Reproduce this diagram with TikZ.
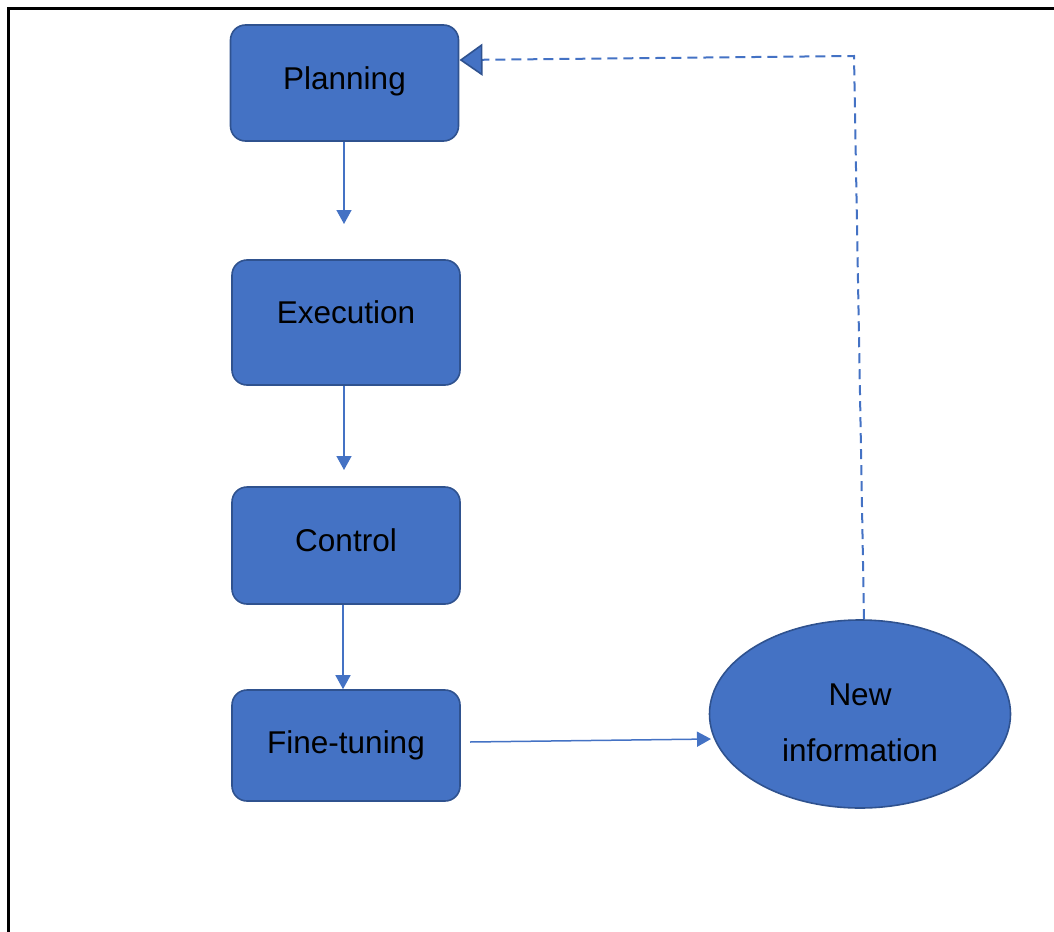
\documentclass[tikz,border=0pt]{standalone}
\usepackage{fontspec}
\setmainfont{Liberation Sans}
\usepackage{tikz}
\usetikzlibrary{
  positioning,
  arrows.meta,
  shapes.geometric,
  calc
}
\definecolor{boxblue}{HTML}{4472C4}
\definecolor{edgeblue}{HTML}{2F528F}

\begin{document}
\begin{tikzpicture}[
  x=1pt, y=-1pt,
  >=Stealth,
  font=\fontsize{31.5}{56}\selectfont,
  stagebox/.style={rectangle, rounded corners=15pt, draw=edgeblue, line width=1.6pt,
    fill=boxblue, text=black, minimum width=228pt, inner sep=0pt},
  infobubble/.style={ellipse, draw=edgeblue, line width=1.6pt, fill=boxblue,
    text=black, minimum width=301pt, minimum height=188pt, inner sep=0pt, align=center},
  flow/.style={draw=boxblue, line width=1.5pt, -{Triangle[length=14pt, width=15pt]}},
  feedback/.style={draw=boxblue, line width=2pt, dash pattern=on 10pt off 6pt,
    -{Triangle[length=23pt, width=32pt, fill=boxblue, color=edgeblue, line width=1.6pt]}}
]
  \useasboundingbox (0,0) rectangle (1054,931);
  % frame
  \draw[line width=3pt, line cap=rect] (8.5,931) -- (8.5,8.5) -- (1054,8.5);

  \node[stagebox, minimum height=116pt, text depth=10.6pt] (plan) at (344.5,83) {Planning};
  \node[stagebox, minimum height=125pt, text depth=20pt] (exec) at (346,322.5) {Execution};
  \node[stagebox, minimum height=117pt, text depth=10pt] (ctrl) at (346,545.5) {Control};
  \node[stagebox, minimum height=111pt] (tune) at (346,745.5) {Fine-tuning};
  \node[infobubble, text height=96pt] (info) at (860,714) {New\\information};

  \coordinate (planend) at (344,224);
  \coordinate (execend) at (344,470);
  \coordinate (tunestart) at (470,742);
  \coordinate (infoin) at (711,739);
  \coordinate (loopcorner) at (854,56);
  \coordinate (looptip) at (459.5,60);

  \draw[flow] (plan.south -| planend) -- (planend);
  \draw[flow] (exec.south -| execend) -- (execend);
  \draw[flow] (ctrl.south -| 343,0) -- (tune.north -| 343,0);
  \draw[flow] (tunestart) -- (infoin);
  \draw[feedback] ($(info.north)+(4,0)$) -- (loopcorner) -- (looptip);
\end{tikzpicture}
\end{document}
